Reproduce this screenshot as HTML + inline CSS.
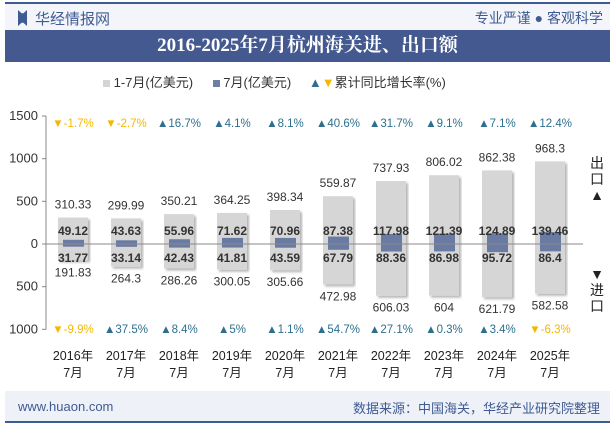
<!DOCTYPE html>
<html><head><meta charset="utf-8"><style>
body{margin:0;width:615px;height:427px;overflow:hidden;background:#fff;font-family:"Liberation Sans","Noto Sans CJK SC",sans-serif;position:relative}
.a{position:absolute}
</style></head><body>
<div class="a" style="left:5px;top:2px;width:605px;height:2px;background:#3f5b93"></div>
<div class="a" style="left:5px;top:4px;width:605px;height:26px;background:#f3f5fa"></div>
<div class="a" style="left:18px;top:10px;width:9px;height:16px;background:#3f5b93;clip-path:polygon(0 0,40% 20%,60% 20%,100% 0,100% 100%,60% 80%,40% 80%,0 100%)"></div>
<div class="a" style="left:35px;top:8px;font-size:15px;color:#3f5b93">华经情报网</div>
<div class="a" style="right:12px;top:8px;font-size:14px;color:#3f5b93">专业严谨 ● 客观科学</div>
<div class="a" style="left:5px;top:30px;width:605px;height:32px;background:#44598f;color:#fff;font-family:'Liberation Serif','Noto Serif CJK SC',serif;font-weight:bold;font-size:19px;text-align:center;line-height:32px">2016-2025年7月杭州海关进、出口额</div>
<div class="a" style="left:103px;top:72px;font-size:13px;color:#333;white-space:nowrap">
<span><span style="display:inline-block;width:7px;height:7px;background:#d4d4d4"></span> 1-7月(亿美元)</span>
<span style="margin-left:16px"><span style="display:inline-block;width:7px;height:7px;background:#6f7fa3"></span> 7月(亿美元)</span>
<span style="margin-left:14px"><span style="color:#2e6f8f">▲</span><span style="color:#f5b800">▼</span>累计同比增长率(%)</span></div>
<svg class="a" style="left:0;top:0" width="615" height="427" id="svg">
<defs><filter id="sh"><feDropShadow dx="2" dy="2" stdDeviation="1.2" flood-color="#000" flood-opacity="0.3"/></filter></defs>
</svg>
<div class="a" style="left:589px;top:155px;width:16px;font-size:14px;line-height:16px;color:#222;text-align:center">出<br>口<br>▲</div>
<div class="a" style="left:589px;top:266px;width:16px;font-size:14px;line-height:16px;color:#222;text-align:center">▼<br>进<br>口</div>
<div class="a" style="left:5px;top:391px;width:605px;height:30px;background:#eef1f7"></div>
<div class="a" style="left:5px;top:421px;width:605px;height:2px;background:#3f5b93"></div>
<div class="a" style="left:18px;top:399px;font-size:13px;color:#3f5b93">www.huaon.com</div>
<div class="a" style="right:15px;top:398px;font-size:13px;color:#3f5b93">数据来源：中国海关，华经产业研究院整理</div>
<script>
const years=["2016年","2017年","2018年","2019年","2020年","2021年","2022年","2023年","2024年","2025年"];
const exp17=[310.33,299.99,350.21,364.25,398.34,559.87,737.93,806.02,862.38,968.3];
const imp17=[191.83,264.3,286.26,300.05,305.66,472.98,606.03,604,621.79,582.58];
const exp7=[49.12,43.63,55.96,71.62,70.96,87.38,117.98,121.39,124.89,139.46];
const imp7=[31.77,33.14,42.43,41.81,43.59,67.79,88.36,86.98,95.72,86.4];
const expG=[-1.7,-2.7,16.7,4.1,8.1,40.6,31.7,9.1,7.1,12.4];
const impG=[-9.9,37.5,8.4,5,1.1,54.7,27.1,0.3,3.4,-6.3];
const yTicks=[1500,1000,500,0,-500,-1000];
const yTickLabels=["1500","1000","500","0","500","1000"];
const svg=document.getElementById('svg');const NS="http://www.w3.org/2000/svg";
const y0=244,k=128/1500;const Y=v=>y0-v*k;const X=i=>73+i*53;
function mk(t,a,p){const e=document.createElementNS(NS,t);for(const n in a)e.setAttribute(n,a[n]);(p||svg).appendChild(e);return e;}
function tx(x,y,s,o){const e=mk('text',Object.assign({x:x,y:y,'text-anchor':'middle','font-size':12,fill:'#333','font-family':'Liberation Sans, Noto Sans CJK SC, sans-serif'},o||{}));e.textContent=s;return e;}
let ax=mk('line',{x1:46,y1:Y(1500),x2:46,y2:Y(-1000),stroke:'#888'});

yTicks.forEach((v,i)=>{mk('line',{x1:42,x2:46,y1:Y(v),y2:Y(v),stroke:'#888'});
let t=tx(38,Y(v)+4,yTickLabels[i],{'text-anchor':'end','font-size':13});
});
years.forEach((yr,i)=>{const x=X(i);
let g=mk('rect',{x:x-15,y:Y(exp17[i]),width:30,height:(exp17[i]+imp17[i])*k,fill:'#d6d6d6',filter:'url(#sh)'});

let d=mk('rect',{x:x-10,y:Y(exp7[i]),width:21,height:(exp7[i]+imp7[i])*k,fill:'#6a7ba3'});

tx(x,Y(exp17[i])-9,exp17[i],{'font-size':12});
tx(x,Y(-imp17[i])+16,imp17[i],{'font-size':12});
tx(x,235,exp7[i],{'font-weight':'bold','font-size':12,fill:'#333'});
tx(x,262,imp7[i],{'font-weight':'bold','font-size':12,fill:'#333'});
const c1=expG[i]<0?'#f5b800':'#2e6f8f',c2=impG[i]<0?'#f5b800':'#2e6f8f';
tx(x,127,(expG[i]<0?'▼':'▲')+expG[i]+'%',{fill:c1,'font-size':11.5});
tx(x,333,(impG[i]<0?'▼':'▲')+impG[i]+'%',{fill:c2,'font-size':11.5});
let l1=tx(x,360,yr,{'font-size':12.5,fill:'#222'});
tx(x,377,'7月',{'font-size':12.5,fill:'#222'});
});
mk('line',{x1:46,x2:583,y1:y0,y2:y0,stroke:'#888'});
</script>
</body></html>
